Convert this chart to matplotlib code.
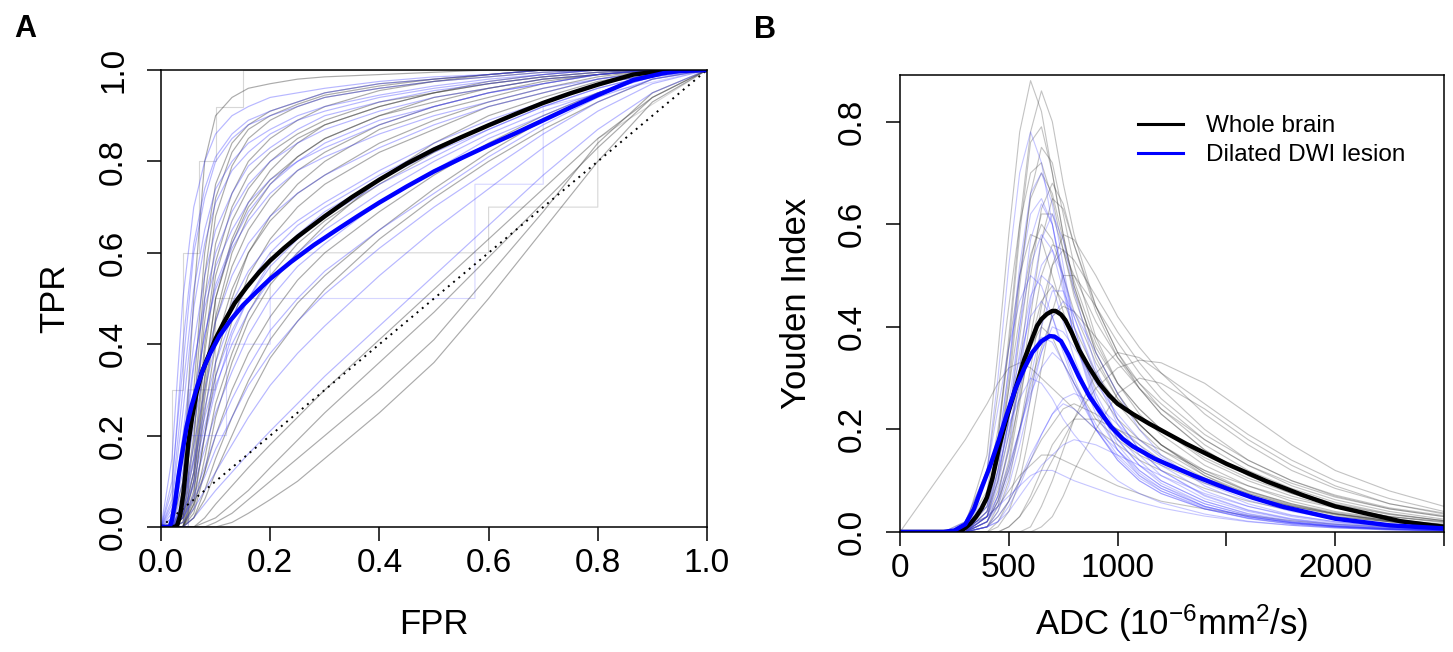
import matplotlib
matplotlib.use('Agg')
import matplotlib.pyplot as plt
from matplotlib.lines import Line2D

plt.rcParams['font.family'] = ['Liberation Sans', 'DejaVu Sans']
plt.rcParams['mathtext.fontset'] = 'custom'
plt.rcParams['mathtext.rm'] = 'Liberation Sans'
plt.rcParams['mathtext.it'] = 'Liberation Sans:italic'

# ---------------- Panel A data (ROC) ----------------
fpr_grid = [0, 0.02, 0.04, 0.06, 0.08, 0.1, 0.13, 0.16, 0.2, 0.25, 0.3, 0.4, 0.5, 0.6, 0.7, 0.8, 0.9, 1.0]

roc_whole_thin = [
    [0, 0, 0.10, 0.50, 0.80, 0.90, 0.94, 0.96, 0.97, 0.98, 0.985, 0.99, 0.995, 1, 1, 1, 1, 1],
    [0, 0, 0.05, 0.30, 0.60, 0.75, 0.84, 0.88, 0.91, 0.93, 0.95, 0.97, 0.98, 0.99, 1, 1, 1, 1],
    [0, 0, 0.02, 0.15, 0.40, 0.58, 0.70, 0.77, 0.82, 0.86, 0.89, 0.93, 0.95, 0.97, 0.985, 0.995, 1, 1],
    [0, 0, 0, 0.08, 0.25, 0.40, 0.52, 0.60, 0.67, 0.73, 0.77, 0.84, 0.89, 0.93, 0.96, 0.985, 1, 1],
    [0, 0, 0, 0.04, 0.15, 0.27, 0.38, 0.47, 0.55, 0.62, 0.67, 0.75, 0.82, 0.88, 0.93, 0.97, 0.99, 1],
    [0, 0, 0, 0.02, 0.08, 0.15, 0.24, 0.32, 0.41, 0.49, 0.55, 0.65, 0.74, 0.82, 0.89, 0.95, 0.99, 1],
    [0, 0, 0, 0, 0.02, 0.05, 0.09, 0.13, 0.18, 0.24, 0.30, 0.41, 0.52, 0.63, 0.74, 0.85, 0.94, 1],
    [0, 0, 0, 0, 0, 0.01, 0.03, 0.06, 0.10, 0.15, 0.20, 0.30, 0.41, 0.55, 0.69, 0.84, 0.95, 1],
    [0, 0, 0, 0, 0, 0, 0.01, 0.03, 0.06, 0.10, 0.15, 0.25, 0.36, 0.50, 0.65, 0.80, 0.93, 1],
    [0, 0, 0.03, 0.20, 0.45, 0.62, 0.73, 0.80, 0.85, 0.89, 0.92, 0.955, 0.975, 0.99, 1, 1, 1, 1],
    [0, 0, 0, 0.06, 0.20, 0.33, 0.45, 0.55, 0.63, 0.70, 0.75, 0.82, 0.87, 0.92, 0.95, 0.98, 1, 1],
    [0, 0, 0.01, 0.10, 0.30, 0.46, 0.60, 0.68, 0.75, 0.81, 0.85, 0.90, 0.94, 0.96, 0.98, 0.99, 1, 1],
    [0, 0, 0, 0.05, 0.12, 0.20, 0.30, 0.38, 0.46, 0.54, 0.60, 0.69, 0.77, 0.84, 0.90, 0.95, 0.99, 1],
    [0, 0, 0, 0, 0.01, 0.02, 0.05, 0.08, 0.13, 0.19, 0.25, 0.36, 0.47, 0.59, 0.71, 0.83, 0.94, 1],
    [0, 0, 0.02, 0.12, 0.33, 0.50, 0.63, 0.71, 0.78, 0.84, 0.88, 0.92, 0.95, 0.975, 0.99, 1, 1, 1],
    [0, 0, 0.02, 0.18, 0.50, 0.68, 0.79, 0.85, 0.89, 0.92, 0.94, 0.96, 0.975, 0.985, 0.995, 1, 1, 1],
    [0, 0, 0.01, 0.12, 0.38, 0.55, 0.67, 0.74, 0.80, 0.85, 0.88, 0.92, 0.95, 0.97, 0.985, 0.995, 1, 1],
    [0, 0, 0, 0.07, 0.28, 0.45, 0.57, 0.65, 0.72, 0.78, 0.82, 0.88, 0.92, 0.95, 0.975, 0.99, 1, 1],
    [0, 0, 0, 0.05, 0.20, 0.36, 0.50, 0.60, 0.68, 0.75, 0.80, 0.87, 0.91, 0.94, 0.97, 0.99, 1, 1],
    [0, 0, 0, 0.03, 0.12, 0.24, 0.36, 0.45, 0.53, 0.60, 0.66, 0.76, 0.84, 0.90, 0.94, 0.975, 0.995, 1],
    [0, 0, 0.04, 0.25, 0.55, 0.72, 0.82, 0.87, 0.90, 0.925, 0.945, 0.965, 0.98, 0.99, 1, 1, 1, 1],
    [0, 0, 0, 0.10, 0.32, 0.50, 0.62, 0.70, 0.76, 0.81, 0.85, 0.90, 0.93, 0.96, 0.98, 0.99, 1, 1],
    [0, 0, 0, 0.02, 0.06, 0.12, 0.20, 0.28, 0.37, 0.45, 0.52, 0.63, 0.72, 0.80, 0.87, 0.93, 0.98, 1],
]
roc_lesion_thin = [
    [0, 0.10, 0.35, 0.60, 0.72, 0.80, 0.85, 0.88, 0.90, 0.92, 0.94, 0.96, 0.975, 0.985, 0.995, 1, 1, 1],
    [0, 0.02, 0.15, 0.35, 0.50, 0.60, 0.69, 0.75, 0.80, 0.84, 0.87, 0.91, 0.94, 0.96, 0.98, 0.99, 1, 1],
    [0, 0, 0.08, 0.22, 0.35, 0.45, 0.55, 0.62, 0.68, 0.73, 0.77, 0.83, 0.88, 0.92, 0.95, 0.98, 0.995, 1],
    [0, 0, 0.04, 0.12, 0.22, 0.31, 0.40, 0.47, 0.54, 0.60, 0.65, 0.73, 0.80, 0.86, 0.91, 0.95, 0.985, 1],
    [0, 0, 0.02, 0.07, 0.13, 0.20, 0.28, 0.35, 0.43, 0.50, 0.56, 0.65, 0.73, 0.81, 0.88, 0.94, 0.98, 1],
    [0, 0, 0.01, 0.04, 0.08, 0.12, 0.18, 0.24, 0.31, 0.38, 0.44, 0.55, 0.65, 0.74, 0.83, 0.91, 0.97, 1],
    [0, 0.05, 0.25, 0.48, 0.62, 0.71, 0.78, 0.82, 0.86, 0.89, 0.91, 0.94, 0.96, 0.975, 0.99, 1, 1, 1],
    [0, 0, 0.05, 0.18, 0.30, 0.40, 0.49, 0.56, 0.62, 0.67, 0.71, 0.78, 0.84, 0.89, 0.93, 0.97, 0.99, 1],
    [0, 0, 0, 0.02, 0.05, 0.08, 0.12, 0.16, 0.21, 0.27, 0.33, 0.44, 0.55, 0.66, 0.77, 0.87, 0.95, 1],
    [0, 0.15, 0.50, 0.70, 0.80, 0.86, 0.90, 0.92, 0.94, 0.95, 0.96, 0.975, 0.985, 0.99, 1, 1, 1, 1],
    [0, 0, 0.03, 0.10, 0.20, 0.30, 0.42, 0.50, 0.58, 0.64, 0.69, 0.76, 0.82, 0.87, 0.92, 0.96, 0.99, 1],
    [0, 0.03, 0.20, 0.40, 0.55, 0.65, 0.73, 0.79, 0.83, 0.87, 0.90, 0.93, 0.955, 0.97, 0.985, 0.995, 1, 1],
    [0, 0, 0.06, 0.15, 0.26, 0.36, 0.46, 0.53, 0.60, 0.66, 0.70, 0.77, 0.83, 0.88, 0.93, 0.97, 0.99, 1],
    [0, 0.01, 0.10, 0.28, 0.42, 0.53, 0.62, 0.69, 0.75, 0.80, 0.83, 0.88, 0.92, 0.95, 0.97, 0.99, 1, 1],
    [0, 0.06, 0.30, 0.52, 0.65, 0.74, 0.80, 0.84, 0.87, 0.90, 0.92, 0.945, 0.965, 0.98, 0.99, 1, 1, 1],
    [0, 0.02, 0.12, 0.28, 0.42, 0.52, 0.61, 0.67, 0.73, 0.78, 0.81, 0.86, 0.90, 0.93, 0.96, 0.98, 0.995, 1],
    [0, 0, 0.05, 0.14, 0.24, 0.33, 0.43, 0.50, 0.57, 0.63, 0.68, 0.75, 0.81, 0.87, 0.92, 0.96, 0.99, 1],
    [0, 0, 0.03, 0.09, 0.17, 0.25, 0.34, 0.42, 0.50, 0.57, 0.62, 0.71, 0.78, 0.85, 0.90, 0.95, 0.985, 1],
    [0, 0.04, 0.18, 0.36, 0.48, 0.57, 0.65, 0.71, 0.76, 0.80, 0.84, 0.89, 0.92, 0.95, 0.97, 0.99, 1, 1],
    [0, 0, 0.02, 0.06, 0.11, 0.17, 0.24, 0.31, 0.38, 0.45, 0.51, 0.61, 0.70, 0.78, 0.86, 0.93, 0.98, 1],
    [0, 0.08, 0.40, 0.62, 0.74, 0.81, 0.86, 0.89, 0.91, 0.93, 0.95, 0.97, 0.98, 0.99, 1, 1, 1, 1],
]
# stair-step ROC curves (few thresholds)
step_whole_fpr = [[0, 0.05, 0.05, 0.10, 0.10, 0.20, 0.20, 0.60, 0.60, 0.80, 0.80, 1.0],
                  [0, 0.02, 0.02, 0.04, 0.04, 0.07, 0.07, 0.10, 0.10, 0.15, 0.15, 1.0]]
step_whole_tpr = [[0, 0, 0.30, 0.30, 0.50, 0.50, 0.60, 0.60, 0.70, 0.70, 0.85, 1.0],
                  [0, 0, 0.30, 0.30, 0.60, 0.60, 0.80, 0.80, 0.92, 0.92, 1.0, 1.0]]
step_lesion_fpr = [[0, 0.05, 0.05, 0.12, 0.12, 0.20, 0.20, 0.575, 0.575, 0.70, 0.70, 1.0]]
step_lesion_tpr = [[0, 0, 0.20, 0.20, 0.40, 0.40, 0.50, 0.50, 0.75, 0.75, 0.92, 1.0]]

roc_whole_mean_fpr = [0, 0.026, 0.03, 0.035, 0.041, 0.045, 0.05, 0.057, 0.065, 0.074, 0.084, 0.1,
                      0.114, 0.135, 0.157, 0.18, 0.2, 0.225, 0.25, 0.3, 0.35, 0.4, 0.45, 0.5, 0.55,
                      0.6, 0.65, 0.7, 0.75, 0.8, 0.865, 0.93, 1.0]
roc_whole_mean_tpr = [0, 0, 0.005, 0.025, 0.074, 0.12, 0.184, 0.24, 0.293, 0.335, 0.366, 0.412,
                      0.445, 0.49, 0.525, 0.558, 0.583, 0.61, 0.635, 0.68, 0.722, 0.76, 0.795, 0.826,
                      0.853, 0.879, 0.904, 0.928, 0.949, 0.968, 0.99, 1.0, 1.0]
roc_lesion_mean_fpr = [0, 0.016, 0.02, 0.026, 0.032, 0.04, 0.047, 0.056, 0.066, 0.077, 0.09, 0.107,
                       0.127, 0.15, 0.177, 0.2, 0.238, 0.28, 0.324, 0.36, 0.4, 0.45, 0.5, 0.55, 0.6,
                       0.65, 0.7, 0.75, 0.8, 0.865, 0.92, 0.95, 1.0]
roc_lesion_mean_tpr = [0, 0, 0.015, 0.055, 0.11, 0.17, 0.22, 0.265, 0.306, 0.345, 0.38, 0.418,
                       0.452, 0.485, 0.517, 0.543, 0.58, 0.617, 0.652, 0.68, 0.71, 0.745, 0.778,
                       0.807, 0.835, 0.862, 0.89, 0.918, 0.945, 0.978, 0.993, 0.998, 1.0]

# ---------------- Panel B data (Youden index) ----------------
adc_grid = [0, 200, 300, 400, 450, 500, 550, 600, 650, 700, 750, 800, 900, 1000, 1100, 1200,
            1400, 1600, 1800, 2000, 2250, 2500]

youden_whole_thin = [
    [0, 0, 0.01, 0.15, 0.35, 0.58, 0.78, 0.88, 0.82, 0.70, 0.58, 0.48, 0.35, 0.27, 0.21, 0.17, 0.11, 0.07, 0.045, 0.03, 0.02, 0.01],
    [0, 0, 0, 0.05, 0.18, 0.38, 0.60, 0.78, 0.86, 0.80, 0.68, 0.58, 0.44, 0.35, 0.28, 0.23, 0.16, 0.11, 0.08, 0.055, 0.035, 0.022],
    [0, 0, 0, 0.03, 0.12, 0.28, 0.48, 0.66, 0.75, 0.72, 0.62, 0.52, 0.38, 0.29, 0.23, 0.19, 0.13, 0.09, 0.06, 0.04, 0.025, 0.015],
    [0, 0, 0, 0.02, 0.07, 0.17, 0.32, 0.50, 0.63, 0.68, 0.64, 0.56, 0.43, 0.34, 0.28, 0.23, 0.16, 0.11, 0.075, 0.05, 0.03, 0.02],
    [0, 0, 0.01, 0.06, 0.15, 0.28, 0.42, 0.54, 0.60, 0.57, 0.50, 0.43, 0.33, 0.26, 0.21, 0.17, 0.12, 0.08, 0.055, 0.035, 0.02, 0.012],
    [0, 0, 0, 0.01, 0.04, 0.10, 0.20, 0.32, 0.44, 0.52, 0.55, 0.53, 0.46, 0.39, 0.33, 0.28, 0.20, 0.14, 0.10, 0.07, 0.045, 0.03],
    [0, 0, 0, 0.03, 0.08, 0.16, 0.26, 0.37, 0.45, 0.48, 0.45, 0.40, 0.31, 0.25, 0.20, 0.16, 0.11, 0.075, 0.05, 0.033, 0.02, 0.012],
    [0, 0, 0, 0, 0, 0.01, 0.03, 0.06, 0.10, 0.14, 0.18, 0.22, 0.28, 0.32, 0.335, 0.33, 0.29, 0.23, 0.17, 0.12, 0.08, 0.05],
    [0, 0, 0, 0, 0, 0, 0, 0, 0.01, 0.03, 0.07, 0.12, 0.20, 0.27, 0.30, 0.29, 0.24, 0.18, 0.13, 0.09, 0.055, 0.035],
    [0, 0, 0, 0.01, 0.03, 0.06, 0.10, 0.14, 0.18, 0.21, 0.24, 0.25, 0.23, 0.20, 0.17, 0.14, 0.10, 0.07, 0.05, 0.035, 0.022, 0.014],
    [0, 0, 0.01, 0.03, 0.05, 0.08, 0.11, 0.13, 0.15, 0.15, 0.14, 0.13, 0.11, 0.09, 0.075, 0.06, 0.045, 0.032, 0.022, 0.015, 0.01, 0.006],
    [0, 0, 0, 0.04, 0.10, 0.19, 0.29, 0.36, 0.40, 0.38, 0.33, 0.29, 0.22, 0.18, 0.15, 0.13, 0.095, 0.07, 0.05, 0.035, 0.022, 0.014],
    [0, 0, 0.02, 0.12, 0.27, 0.44, 0.60, 0.70, 0.72, 0.65, 0.55, 0.46, 0.34, 0.26, 0.21, 0.17, 0.115, 0.08, 0.055, 0.038, 0.024, 0.015],
    [0, 0, 0, 0, 0.02, 0.06, 0.14, 0.26, 0.40, 0.52, 0.58, 0.57, 0.50, 0.42, 0.36, 0.31, 0.23, 0.17, 0.12, 0.085, 0.055, 0.037],
    [0, 0, 0, 0, 0, 0, 0, 0.01, 0.05, 0.10, 0.16, 0.22, 0.31, 0.35, 0.34, 0.31, 0.25, 0.19, 0.14, 0.10, 0.065, 0.04],
    [0, 0.12, 0.18, 0.25, 0.29, 0.32, 0.33, 0.32, 0.30, 0.28, 0.26, 0.24, 0.20, 0.17, 0.14, 0.12, 0.085, 0.06, 0.042, 0.03, 0.02, 0.012],
    [0, 0, 0, 0.02, 0.06, 0.14, 0.27, 0.42, 0.57, 0.65, 0.63, 0.56, 0.44, 0.35, 0.29, 0.24, 0.17, 0.12, 0.085, 0.058, 0.036, 0.022],
    [0, 0, 0, 0.06, 0.18, 0.36, 0.58, 0.76, 0.79, 0.70, 0.58, 0.48, 0.35, 0.27, 0.21, 0.17, 0.115, 0.078, 0.053, 0.036, 0.022, 0.013],
    [0, 0, 0, 0.04, 0.14, 0.30, 0.50, 0.65, 0.70, 0.66, 0.57, 0.49, 0.37, 0.29, 0.24, 0.20, 0.14, 0.10, 0.07, 0.048, 0.03, 0.018],
    [0, 0, 0, 0.01, 0.05, 0.13, 0.25, 0.38, 0.50, 0.56, 0.55, 0.50, 0.41, 0.34, 0.29, 0.25, 0.18, 0.13, 0.095, 0.068, 0.045, 0.03],
    [0, 0, 0.01, 0.08, 0.20, 0.36, 0.50, 0.58, 0.57, 0.50, 0.43, 0.37, 0.28, 0.22, 0.18, 0.15, 0.105, 0.075, 0.052, 0.036, 0.022, 0.014],
    [0, 0, 0, 0.02, 0.06, 0.12, 0.20, 0.29, 0.36, 0.42, 0.44, 0.43, 0.38, 0.33, 0.28, 0.24, 0.18, 0.13, 0.09, 0.063, 0.04, 0.025],
    [0, 0, 0, 0, 0.01, 0.04, 0.10, 0.20, 0.32, 0.43, 0.50, 0.50, 0.44, 0.37, 0.31, 0.26, 0.19, 0.14, 0.10, 0.072, 0.047, 0.032],
    [0, 0, 0, 0.03, 0.10, 0.22, 0.38, 0.53, 0.62, 0.62, 0.55, 0.47, 0.36, 0.29, 0.24, 0.20, 0.145, 0.105, 0.075, 0.053, 0.034, 0.022],
    [0, 0, 0, 0, 0, 0.01, 0.03, 0.07, 0.12, 0.17, 0.20, 0.22, 0.22, 0.20, 0.18, 0.16, 0.12, 0.09, 0.065, 0.047, 0.03, 0.02],
]
youden_lesion_thin = [
    [0, 0, 0.01, 0.12, 0.30, 0.52, 0.70, 0.78, 0.72, 0.60, 0.48, 0.38, 0.25, 0.17, 0.12, 0.09, 0.05, 0.03, 0.018, 0.01, 0.005, 0.003],
    [0, 0, 0, 0.06, 0.16, 0.32, 0.50, 0.62, 0.65, 0.60, 0.50, 0.40, 0.27, 0.19, 0.14, 0.10, 0.06, 0.035, 0.02, 0.012, 0.006, 0.003],
    [0, 0, 0, 0.03, 0.09, 0.19, 0.32, 0.44, 0.52, 0.55, 0.50, 0.42, 0.30, 0.21, 0.15, 0.11, 0.065, 0.04, 0.024, 0.014, 0.007, 0.004],
    [0, 0, 0.01, 0.06, 0.14, 0.24, 0.34, 0.42, 0.45, 0.42, 0.36, 0.30, 0.20, 0.14, 0.10, 0.075, 0.045, 0.027, 0.016, 0.01, 0.005, 0.003],
    [0, 0, 0, 0.03, 0.07, 0.13, 0.20, 0.27, 0.32, 0.35, 0.33, 0.29, 0.21, 0.15, 0.11, 0.085, 0.05, 0.03, 0.018, 0.011, 0.006, 0.003],
    [0, 0, 0, 0.01, 0.03, 0.06, 0.10, 0.15, 0.19, 0.23, 0.25, 0.24, 0.20, 0.16, 0.12, 0.09, 0.055, 0.033, 0.02, 0.012, 0.006, 0.003],
    [0, 0, 0, 0.05, 0.15, 0.32, 0.52, 0.66, 0.70, 0.64, 0.52, 0.40, 0.26, 0.18, 0.13, 0.095, 0.055, 0.032, 0.019, 0.011, 0.006, 0.003],
    [0, 0, 0.02, 0.12, 0.24, 0.36, 0.45, 0.50, 0.48, 0.42, 0.35, 0.29, 0.20, 0.14, 0.10, 0.075, 0.045, 0.027, 0.016, 0.01, 0.005, 0.003],
    [0, 0, 0, 0.01, 0.02, 0.04, 0.07, 0.10, 0.13, 0.15, 0.17, 0.18, 0.17, 0.15, 0.13, 0.11, 0.075, 0.05, 0.032, 0.02, 0.011, 0.006],
    [0, 0, 0, 0.02, 0.07, 0.16, 0.30, 0.45, 0.57, 0.62, 0.57, 0.47, 0.32, 0.22, 0.16, 0.12, 0.07, 0.042, 0.025, 0.015, 0.008, 0.004],
    [0, 0, 0, 0.02, 0.06, 0.12, 0.20, 0.28, 0.35, 0.40, 0.39, 0.36, 0.29, 0.23, 0.18, 0.145, 0.095, 0.062, 0.04, 0.025, 0.014, 0.008],
    [0, 0, 0.01, 0.07, 0.14, 0.21, 0.26, 0.30, 0.29, 0.26, 0.22, 0.19, 0.14, 0.10, 0.075, 0.057, 0.035, 0.021, 0.013, 0.008, 0.004, 0.002],
    [0, 0, 0, 0.04, 0.12, 0.25, 0.40, 0.52, 0.58, 0.55, 0.47, 0.38, 0.26, 0.18, 0.13, 0.10, 0.06, 0.036, 0.022, 0.013, 0.007, 0.004],
    [0, 0, 0.01, 0.03, 0.05, 0.07, 0.09, 0.11, 0.12, 0.12, 0.11, 0.10, 0.085, 0.07, 0.058, 0.047, 0.031, 0.02, 0.013, 0.008, 0.004, 0.002],
    [0, 0, 0, 0.01, 0.04, 0.09, 0.17, 0.26, 0.35, 0.42, 0.45, 0.43, 0.35, 0.27, 0.20, 0.15, 0.09, 0.055, 0.033, 0.02, 0.01, 0.005],
    [0, 0, 0, 0.04, 0.11, 0.22, 0.35, 0.46, 0.50, 0.48, 0.41, 0.34, 0.23, 0.16, 0.115, 0.085, 0.05, 0.03, 0.018, 0.011, 0.006, 0.003],
    [0, 0, 0, 0.02, 0.05, 0.11, 0.19, 0.30, 0.40, 0.47, 0.47, 0.42, 0.31, 0.22, 0.16, 0.12, 0.072, 0.043, 0.026, 0.016, 0.008, 0.004],
    [0, 0, 0.01, 0.05, 0.12, 0.20, 0.28, 0.35, 0.38, 0.37, 0.33, 0.28, 0.20, 0.145, 0.105, 0.08, 0.048, 0.029, 0.018, 0.011, 0.006, 0.003],
    [0, 0, 0, 0.01, 0.02, 0.05, 0.09, 0.14, 0.19, 0.23, 0.26, 0.27, 0.25, 0.21, 0.17, 0.13, 0.08, 0.05, 0.03, 0.018, 0.009, 0.005],
    [0, 0, 0, 0.03, 0.10, 0.22, 0.40, 0.57, 0.64, 0.60, 0.49, 0.38, 0.24, 0.16, 0.11, 0.08, 0.045, 0.026, 0.015, 0.009, 0.005, 0.002],
]

youden_whole_mean_adc = [0, 250, 280, 300, 325, 350, 375, 400, 425, 454, 490, 531, 570, 608, 630, 650,
                         675, 700, 715, 740, 760, 790, 823, 870, 915, 960, 1000, 1070, 1146, 1315,
                         1500, 1684, 1850, 2000, 2300, 2500]
youden_whole_mean = [0, 0, 0.002, 0.008, 0.017, 0.03, 0.046, 0.068, 0.105, 0.163, 0.222, 0.28, 0.335,
                     0.378, 0.402, 0.415, 0.425, 0.431, 0.431, 0.424, 0.413, 0.388, 0.355, 0.32,
                     0.29, 0.267, 0.25, 0.23, 0.211, 0.172, 0.133, 0.099, 0.072, 0.05, 0.021, 0.01]
youden_lesion_mean_adc = [0, 200, 250, 300, 340, 377, 415, 454, 490, 531, 570, 608, 650, 688, 710, 740,
                          775, 823, 870, 915, 970, 1023, 1070, 1120, 1170, 1223, 1350, 1500, 1620,
                          1761, 2000, 2250, 2500]
youden_lesion_mean = [0, 0, 0.003, 0.015, 0.045, 0.088, 0.13, 0.179, 0.228, 0.28, 0.318, 0.35, 0.372,
                      0.382, 0.381, 0.372, 0.345, 0.302, 0.265, 0.237, 0.205, 0.182, 0.167, 0.155,
                      0.143, 0.133, 0.11, 0.085, 0.067, 0.049, 0.026, 0.013, 0.007]

legend_labels = ['Whole brain', 'Dilated DWI lesion']
roc_ticks = [0.0, 0.2, 0.4, 0.6, 0.8, 1.0]
youden_yticks = [0.0, 0.2, 0.4, 0.6, 0.8]
adc_ticks = [0, 500, 1000, 1500, 2000, 2500]
adc_ticklabels = ['0', '500', '1000', '', '2000', '']

# ---------------- Figure ----------------
W, H = 1453, 652
fig = plt.figure(figsize=(W / 100, H / 100), dpi=100)


def axes_px(l, t, r, b):
    return fig.add_axes([l / W, 1 - b / H, (r - l) / W, (b - t) / H])


axA = axes_px(161, 70, 707, 527)
axB = axes_px(900, 75, 1444, 532)

GRAY = (0.22, 0.22, 0.22)
LBLUE = (0.2, 0.2, 1.0)

# Panel A
for ys in roc_whole_thin:
    axA.plot(fpr_grid, ys, color=GRAY, alpha=0.42, lw=0.85)
for xs, ys in zip(step_whole_fpr, step_whole_tpr):
    axA.plot(xs, ys, color=GRAY, alpha=0.2, lw=0.8)
for ys in roc_lesion_thin:
    axA.plot(fpr_grid, ys, color=LBLUE, alpha=0.35, lw=0.85)
for xs, ys in zip(step_lesion_fpr, step_lesion_tpr):
    axA.plot(xs, ys, color=LBLUE, alpha=0.2, lw=0.8)
axA.plot([0, 1], [0, 1], color='black', lw=1.4, ls=(0, (1, 2.5)))
axA.plot(roc_whole_mean_fpr, roc_whole_mean_tpr, color='black', lw=3.2, solid_joinstyle='round')
axA.plot(roc_lesion_mean_fpr, roc_lesion_mean_tpr, color='#0000FF', lw=3.2, solid_joinstyle='round')
axA.set_xlim(0, 1)
axA.set_ylim(0, 1)
axA.set_xticks(roc_ticks)
axA.set_xticklabels([f'{t:.1f}' for t in roc_ticks])
axA.set_yticks(roc_ticks)
axA.set_yticklabels([f'{t:.1f}' for t in roc_ticks], rotation=90, va='center')
axA.set_xlabel('FPR', fontsize=25, va='center')
axA.set_ylabel('TPR', fontsize=25, va='center')
axA.xaxis.set_label_coords(0.5, (527 - 625) / 457)
axA.yaxis.set_label_coords((55 - 161) / 546, 0.5)

# Panel B
for ys in youden_whole_thin:
    axB.plot(adc_grid, ys, color=GRAY, alpha=0.3, lw=0.8)
for ys in youden_lesion_thin:
    axB.plot(adc_grid, ys, color=LBLUE, alpha=0.28, lw=0.8)
axB.plot(youden_whole_mean_adc, youden_whole_mean, color='black', lw=3.2, solid_joinstyle='round')
axB.plot(youden_lesion_mean_adc, youden_lesion_mean, color='#0000FF', lw=3.2, solid_joinstyle='round')
axB.set_xlim(0, 2500)
axB.set_ylim(0, 0.891)
axB.set_xticks(adc_ticks)
axB.set_xticklabels(adc_ticklabels)
axB.set_yticks(youden_yticks)
axB.set_yticklabels([f'{t:.1f}' for t in youden_yticks], rotation=90, va='center')
axB.set_xlabel('ADC (10$^{-6}$mm$^{2}$/s)', fontsize=25, va='center')
axB.set_ylabel('Youden Index', fontsize=25, va='center')
axB.xaxis.set_label_coords(0.5, (532 - 623) / 457)
axB.yaxis.set_label_coords((797 - 900) / 544, 0.5)

axB.legend([Line2D([], [], color='black', lw=2.2), Line2D([], [], color='#0000FF', lw=2.2)],
           legend_labels, loc='upper left', frameon=False, fontsize=17.5,
           bbox_to_anchor=((1138 - 900) / 544, (532 - 115) / 457),
           borderpad=0, borderaxespad=0, handlelength=1.85, handletextpad=0.95,
           labelspacing=0.3)

for ax in (axA, axB):
    for sp in ax.spines.values():
        sp.set_linewidth(1.1)
    ax.tick_params(axis='both', which='major', length=10, width=1.1, labelsize=24)
    ax.tick_params(axis='x', pad=5)
    ax.tick_params(axis='y', pad=13)

fig.text(25.7 / W, 1 - 29.3 / H, 'A', fontsize=22, fontweight='bold', ha='center', va='center')
fig.text(765 / W, 1 - 30 / H, 'B', fontsize=22, fontweight='bold', ha='center', va='center')

fig.savefig('out.png', dpi=100)
